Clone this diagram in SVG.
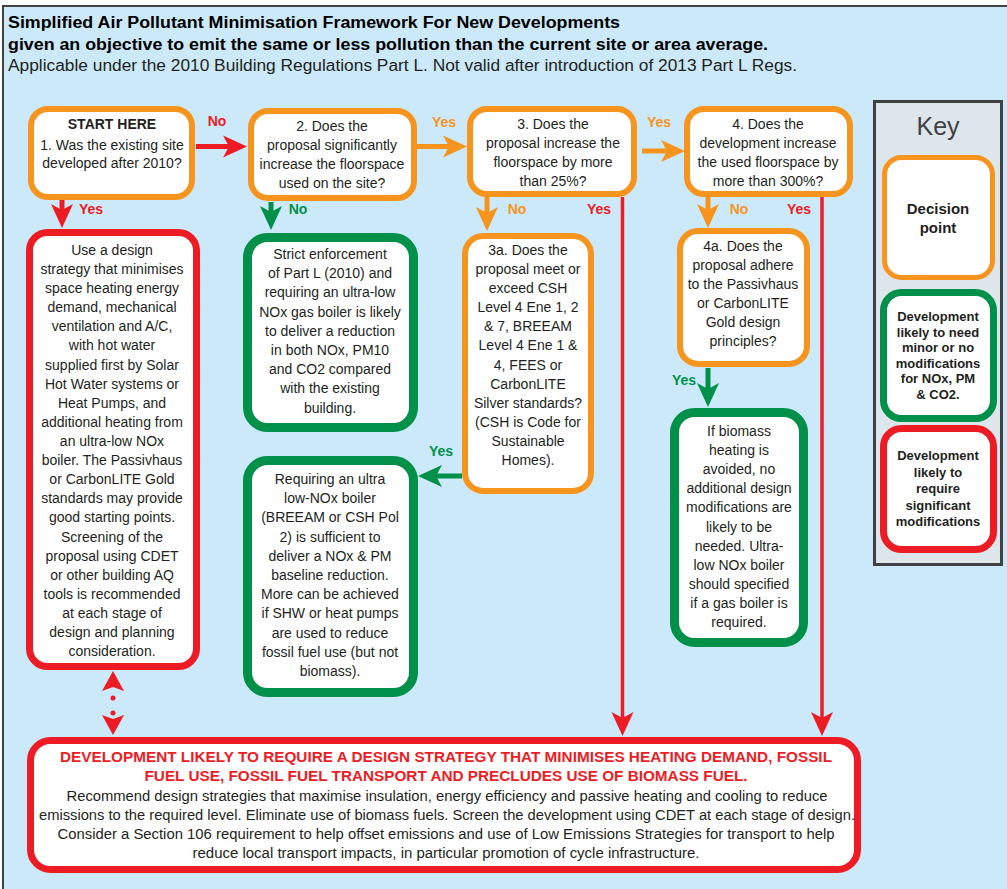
<svg xmlns="http://www.w3.org/2000/svg" width="1007" height="889" viewBox="0 0 1007 889">
<style>
.t{font-family:"Liberation Sans",Arial,sans-serif;font-size:14px;fill:#231f20;text-anchor:middle}
.b{font-weight:bold}
.lbl{font-family:"Liberation Sans",Arial,sans-serif;font-size:14px;font-weight:bold;text-anchor:middle}
.kt{font-family:"Liberation Sans",Arial,sans-serif;font-size:13px;font-weight:bold;fill:#231f20;text-anchor:middle}
.or{fill:#fff;stroke:#f7941d;stroke-width:6}
.gr{fill:#fff;stroke:#00904a;stroke-width:9}
.rd{fill:#fff;stroke:#ed1c24;stroke-width:7}
.cr{stroke:#ed1c24;fill:none}
.co{stroke:#f7941d;fill:none}
.cg{stroke:#00904a;fill:none}
</style>
<defs>
<marker id="ah-r" viewBox="-25 -12 26 24" refX="-18" refY="0" markerWidth="26" markerHeight="24" markerUnits="userSpaceOnUse" orient="auto"><path d="M0,0 L-24,-11 L-18,0 L-24,11 Z" fill="#ed1c24"/></marker>
<marker id="ah-o" viewBox="-25 -12 26 24" refX="-18" refY="0" markerWidth="26" markerHeight="24" markerUnits="userSpaceOnUse" orient="auto"><path d="M0,0 L-24,-11 L-18,0 L-24,11 Z" fill="#f7941d"/></marker>
<marker id="ah-g" viewBox="-25 -12 26 24" refX="-18" refY="0" markerWidth="26" markerHeight="24" markerUnits="userSpaceOnUse" orient="auto"><path d="M0,0 L-24,-11 L-18,0 L-24,11 Z" fill="#00904a"/></marker>
</defs>
<rect x="0" y="0" width="1007" height="889" fill="#fff"/>
<rect x="3" y="6" width="1010" height="890" fill="#cbe9f9" stroke="#414042" stroke-width="2"/>

<g id="title" font-family="Liberation Sans, Arial, sans-serif" font-size="16" fill="#000">
<text x="8" y="28" font-weight="bold" textLength="612" lengthAdjust="spacingAndGlyphs">Simplified Air Pollutant Minimisation Framework For New Developments</text>
<text x="8" y="50" font-weight="bold" textLength="760" lengthAdjust="spacingAndGlyphs">given an objective to emit the same or less pollution than the current site or area average.</text>
<text x="8" y="71" fill="#231f20" textLength="789" lengthAdjust="spacingAndGlyphs">Applicable under the 2010 Building Regulations Part L. Not valid after introduction of 2013 Part L Regs.</text>
</g>

<g id="connectors">
<path class="cr" d="M196,146.5 H229" stroke-width="5" marker-end="url(#ah-r)"/>
<path class="co" d="M417,146.5 H449" stroke-width="5" marker-end="url(#ah-o)"/>
<path class="co" d="M642,151 H667" stroke-width="5" marker-end="url(#ah-o)"/>
<path class="cr" d="M62,200 V210" stroke-width="5" marker-end="url(#ah-r)"/>
<path class="cg" d="M271,202 V212" stroke-width="5" marker-end="url(#ah-g)"/>
<path class="co" d="M487,197 V213" stroke-width="5" marker-end="url(#ah-o)"/>
<path class="cr" d="M622.5,197 V718" stroke-width="3.5" marker-end="url(#ah-r)"/>
<path class="co" d="M708,197 V210" stroke-width="5" marker-end="url(#ah-o)"/>
<path class="cr" d="M822,197 V718" stroke-width="3.5" marker-end="url(#ah-r)"/>
<path class="cg" d="M462,476 H436" stroke-width="5" marker-end="url(#ah-g)"/>
<path class="cg" d="M708,368 V389" stroke-width="5" marker-end="url(#ah-g)"/>
<g id="dotted-link">
<path d="M113,671 L124,691 L113,687 L102,691 Z" fill="#ed1c24"/>
<path d="M113,698 V714" stroke="#ed1c24" stroke-width="5" stroke-linecap="round" stroke-dasharray="0 15"/>
<path d="M113,735 L124,715 L113,719 L102,715 Z" fill="#ed1c24"/>
</g>
<g id="connector-labels">
<text class="lbl" x="217" y="126" fill="#ed1c24">No</text>
<text class="lbl" x="444" y="127" fill="#f7941d">Yes</text>
<text class="lbl" x="659" y="127" fill="#f7941d">Yes</text>
<text class="lbl" x="91" y="214" fill="#ed1c24">Yes</text>
<text class="lbl" x="298" y="214" fill="#00904a">No</text>
<text class="lbl" x="517" y="214" fill="#f7941d">No</text>
<text class="lbl" x="599" y="214" fill="#ed1c24">Yes</text>
<text class="lbl" x="739" y="214" fill="#f7941d">No</text>
<text class="lbl" x="799" y="214" fill="#ed1c24">Yes</text>
<text class="lbl" x="441" y="456" fill="#00904a">Yes</text>
<text class="lbl" x="684" y="385" fill="#00904a">Yes</text>
</g>
</g>

<g id="node1">
<rect class="or" x="31" y="109" width="161" height="88" rx="17"/>
<text class="t b" x="112" y="129">START HERE</text>
<text class="t" x="112" y="150">1. Was the existing site</text>
<text class="t" x="112" y="168">developed after 2010?</text>
</g>

<g id="node2">
<rect class="or" x="251" y="111" width="163" height="87" rx="17"/>
<text class="t" x="332" y="131">2. Does the</text>
<text class="t" x="332" y="150">proposal significantly</text>
<text class="t" x="332" y="169">increase the floorspace</text>
<text class="t" x="332" y="188">used on the site?</text>
</g>

<g id="node3">
<rect class="or" x="470" y="109" width="164" height="85" rx="17"/>
<text class="t" x="553" y="129">3. Does the</text>
<text class="t" x="553" y="148">proposal increase the</text>
<text class="t" x="553" y="167">floorspace by more</text>
<text class="t" x="553" y="186">than 25%?</text>
</g>

<g id="node4">
<rect class="or" x="687" y="109" width="163" height="85" rx="17"/>
<text class="t" x="768" y="129">4. Does the</text>
<text class="t" x="768" y="148">development increase</text>
<text class="t" x="768" y="167">the used floorspace by</text>
<text class="t" x="768" y="186">more than 300%?</text>
</g>

<g id="node1-yes">
<rect class="rd" x="29.5" y="232.5" width="167" height="434" rx="18"/>
<text class="t" x="112" y="255">Use a design</text>
<text class="t" x="112" y="274">strategy that minimises</text>
<text class="t" x="112" y="293">space heating energy</text>
<text class="t" x="112" y="312">demand, mechanical</text>
<text class="t" x="112" y="331">ventilation and A/C,</text>
<text class="t" x="112" y="350">with hot water</text>
<text class="t" x="112" y="370">supplied first by Solar</text>
<text class="t" x="112" y="389">Hot Water systems or</text>
<text class="t" x="112" y="408">Heat Pumps, and</text>
<text class="t" x="112" y="427">additional heating from</text>
<text class="t" x="112" y="446">an ultra-low NOx</text>
<text class="t" x="112" y="465">boiler. The Passivhaus</text>
<text class="t" x="112" y="484">or CarbonLITE Gold</text>
<text class="t" x="112" y="503">standards may provide</text>
<text class="t" x="112" y="522">good starting points.</text>
<text class="t" x="112" y="542">Screening of the</text>
<text class="t" x="112" y="561">proposal using CDET</text>
<text class="t" x="112" y="580">or other building AQ</text>
<text class="t" x="112" y="599">tools is recommended</text>
<text class="t" x="112" y="618">at each stage of</text>
<text class="t" x="112" y="637">design and planning</text>
<text class="t" x="112" y="656">consideration.</text>
</g>

<g id="node2-no">
<rect class="gr" x="247.5" y="237.5" width="166" height="190" rx="20"/>
<text class="t" x="330" y="259">Strict enforcement</text>
<text class="t" x="330" y="278">of Part L (2010) and</text>
<text class="t" x="330" y="297">requiring an ultra-low</text>
<text class="t" x="330" y="317">NOx gas boiler is likely</text>
<text class="t" x="330" y="336">to deliver a reduction</text>
<text class="t" x="330" y="355">in both NOx, PM10</text>
<text class="t" x="330" y="374">and CO2 compared</text>
<text class="t" x="330" y="393">with the existing</text>
<text class="t" x="330" y="413">building.</text>
</g>

<g id="node3a">
<rect class="or" x="465" y="236" width="126" height="255" rx="18"/>
<text class="t" x="528" y="255">3a. Does the</text>
<text class="t" x="528" y="274">proposal meet or</text>
<text class="t" x="528" y="293">exceed CSH</text>
<text class="t" x="528" y="312">Level 4 Ene 1, 2</text>
<text class="t" x="528" y="331">&amp; 7, BREEAM</text>
<text class="t" x="528" y="350">Level 4 Ene 1 &amp;</text>
<text class="t" x="528" y="370">4, FEES or</text>
<text class="t" x="528" y="389">CarbonLITE</text>
<text class="t" x="528" y="408">Silver standards?</text>
<text class="t" x="528" y="427">(CSH is Code for</text>
<text class="t" x="528" y="446">Sustainable</text>
<text class="t" x="528" y="465">Homes).</text>
</g>

<g id="node3a-yes">
<rect class="gr" x="247.5" y="460.5" width="166" height="232" rx="20"/>
<text class="t" x="330" y="484">Requiring an ultra</text>
<text class="t" x="330" y="503">low-NOx boiler</text>
<text class="t" x="330" y="522">(BREEAM or CSH Pol</text>
<text class="t" x="330" y="542">2) is sufficient to</text>
<text class="t" x="330" y="561">deliver a NOx &amp; PM</text>
<text class="t" x="330" y="580">baseline reduction.</text>
<text class="t" x="330" y="599">More can be achieved</text>
<text class="t" x="330" y="618">if SHW or heat pumps</text>
<text class="t" x="330" y="638">are used to reduce</text>
<text class="t" x="330" y="657">fossil fuel use (but not</text>
<text class="t" x="330" y="676">biomass).</text>
</g>

<g id="node4a">
<rect class="or" x="680" y="231" width="127" height="133" rx="18"/>
<text class="t" x="743" y="251">4a. Does the</text>
<text class="t" x="743" y="270">proposal adhere</text>
<text class="t" x="743" y="289">to the Passivhaus</text>
<text class="t" x="743" y="308">or CarbonLITE</text>
<text class="t" x="743" y="327">Gold design</text>
<text class="t" x="743" y="346">principles?</text>
</g>

<g id="node4a-yes">
<rect class="gr" x="674.5" y="412.5" width="129" height="230" rx="20"/>
<text class="t" x="739" y="436">If biomass</text>
<text class="t" x="739" y="455">heating is</text>
<text class="t" x="739" y="474">avoided, no</text>
<text class="t" x="739" y="493">additional design</text>
<text class="t" x="739" y="512">modifications are</text>
<text class="t" x="739" y="532">likely to be</text>
<text class="t" x="739" y="551">needed. Ultra-</text>
<text class="t" x="739" y="570">low NOx boiler</text>
<text class="t" x="739" y="589">should specified</text>
<text class="t" x="739" y="608">if a gas boiler is</text>
<text class="t" x="739" y="627">required.</text>
</g>

<g id="node-bottom">
<rect class="rd" x="30.5" y="740.5" width="827" height="129" rx="20"/>
<text class="t b" x="446" y="762" style="fill:#ed1c24" font-size="14.5" textLength="772" lengthAdjust="spacingAndGlyphs">DEVELOPMENT LIKELY TO REQUIRE A DESIGN STRATEGY THAT MINIMISES HEATING DEMAND, FOSSIL</text>
<text class="t b" x="446" y="781" style="fill:#ed1c24" font-size="14.5" textLength="603" lengthAdjust="spacingAndGlyphs">FUEL USE, FOSSIL FUEL TRANSPORT AND PRECLUDES USE OF BIOMASS FUEL.</text>
<text class="t" x="447" y="801" textLength="761" lengthAdjust="spacingAndGlyphs">Recommend design strategies that maximise insulation, energy efficiency and passive heating and cooling to reduce</text>
<text class="t" x="447" y="820" textLength="816" lengthAdjust="spacingAndGlyphs">emissions to the required level. Eliminate use of biomass fuels. Screen the development using CDET at each stage of design.</text>
<text class="t" x="446" y="839" textLength="777" lengthAdjust="spacingAndGlyphs">Consider a Section 106 requirement to help offset emissions and use of Low Emissions Strategies for transport to help</text>
<text class="t" x="446" y="858" textLength="507" lengthAdjust="spacingAndGlyphs">reduce local transport impacts, in particular promotion of cycle infrastructure.</text>
</g>

<g id="key">
<rect x="874.5" y="101.5" width="127" height="463" fill="#dde6eb" stroke="#414042" stroke-width="3"/>
<text x="938" y="135" font-family="Liberation Sans, Arial, sans-serif" font-size="25" fill="#414042" text-anchor="middle">Key</text>
<g id="key-decision">
<rect x="884.5" y="157.5" width="108" height="120" rx="17" fill="#fff" stroke="#f7941d" stroke-width="5"/>
<text class="kt" x="938" y="214" font-size="15" style="font-size:15px">Decision</text>
<text class="kt" x="938" y="233" style="font-size:15px">point</text>
</g>
<g id="key-minor">
<rect x="883.5" y="292.5" width="110" height="126" rx="18" fill="#fff" stroke="#00904a" stroke-width="7"/>
<text class="kt" x="938" y="321">Development</text>
<text class="kt" x="938" y="337">likely to need</text>
<text class="kt" x="938" y="352">minor or no</text>
<text class="kt" x="938" y="368">modifications</text>
<text class="kt" x="938" y="383">for NOx, PM</text>
<text class="kt" x="938" y="399">&amp; CO2.</text>
</g>
<g id="key-significant">
<rect x="883.5" y="428.5" width="110" height="121" rx="18" fill="#fff" stroke="#ed1c24" stroke-width="7"/>
<text class="kt" x="938" y="460">Development</text>
<text class="kt" x="938" y="477">likely to</text>
<text class="kt" x="938" y="493">require</text>
<text class="kt" x="938" y="510">significant</text>
<text class="kt" x="938" y="526">modifications</text>
</g>
</g>
</svg>
